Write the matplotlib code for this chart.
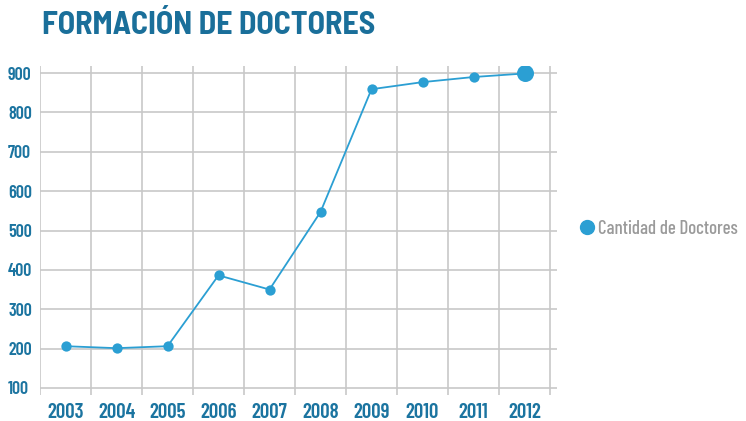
import matplotlib
matplotlib.use("Agg")
import matplotlib.pyplot as plt
from matplotlib.lines import Line2D

years = ["2003", "2004", "2005", "2006", "2007", "2008", "2009", "2010", "2011", "2012"]
doctores = [206, 201, 206, 386, 350, 547, 859, 877, 890, 899]
yticks = [100, 200, 300, 400, 500, 600, 700, 800, 900]
title = "FORMACIÓN DE DOCTORES"
legend_label = "Cantidad de Doctores"

FONT = ["Barlow Semi Condensed", "Roboto Condensed", "DejaVu Sans"]
FONT_C = ["Barlow Condensed", "Roboto Condensed", "DejaVu Sans"]
plt.rcParams["font.family"] = FONT

line_c = "#2b9fd3"
tick_c = "#1b74a0"
title_c = "#1a6f9a"
grid_c = "#c8c8c8"

fig = plt.figure(figsize=(7.46, 4.21), dpi=100)
ax = fig.add_axes([40/746, 26/421, 517/746, 329/421])

x = list(range(len(years)))
ax.plot(x, doctores, color=line_c, lw=1.3, zorder=3)
ax.scatter(x[:-1], doctores[:-1], s=55, color=line_c, zorder=4, linewidths=0)
ax.scatter(x[-1:], doctores[-1:], s=150, color=line_c, zorder=4, linewidths=0)

ax.set_xlim(-0.5, 9.637)
ax.set_ylim(82, 918)

ax.set_yticks(yticks)
ax.set_yticklabels([str(v) for v in yticks])
ax.set_xticks(x)
ax.set_xticklabels(years)
ax.set_xticks([i - 0.5 for i in range(len(years) + 1)], minor=True)

ax.tick_params(axis="y", length=0, pad=23, labelsize=13, labelcolor=tick_c)
ax.tick_params(axis="x", which="both", length=0, pad=6, labelsize=15, labelcolor=tick_c)
for lab in ax.get_yticklabels():
    lab.set_horizontalalignment("left")
    lab.set_fontweight("semibold")
    lab.set_family(FONT_C)
for lab in ax.get_xticklabels():
    lab.set_fontweight("semibold")
    lab.set_family(FONT_C)

ax.grid(axis="y", which="major", color=grid_c, lw=1.2)
ax.grid(axis="x", which="minor", color=grid_c, lw=1.2)
ax.grid(axis="x", which="major", visible=False)
ax.set_axisbelow(True)
for s in ax.spines.values():
    s.set_visible(False)

fig.text(42/746, 1 - 25/421, title, color=title_c, fontsize=23, fontweight="bold",
         ha="left", va="center")

handle = Line2D([], [], marker="o", color=line_c, lw=0, markersize=10)
fig.legend([handle], [legend_label], loc="center left", bbox_to_anchor=(579/746, 1 - 229/421),
           frameon=False, borderpad=0, borderaxespad=0, handletextpad=0.15, handlelength=0.85,
           labelcolor="#9a9a9a", prop={"family": FONT_C, "size": 13.6, "weight": "medium"})

fig.savefig("out.png", dpi=100)
